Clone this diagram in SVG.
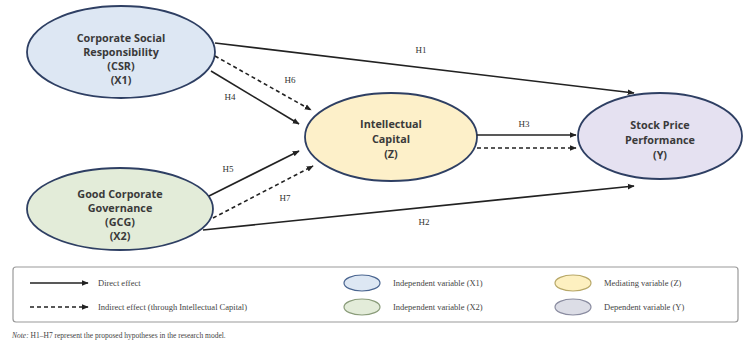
<svg xmlns="http://www.w3.org/2000/svg" width="744" height="342" viewBox="0 0 744 342">
<style>
.node text{font-family:"Open Sans","Liberation Sans",sans-serif;font-size:10.8px;font-weight:bold;fill:#3a3a3a;text-anchor:middle}
.nstroke{stroke:#2e3f63;stroke-width:1.8}
.lbl{font-family:"Liberation Serif",serif;font-size:9px;fill:#333;text-anchor:middle}
.conn line{stroke:#222;stroke-width:1.6;fill:none}
.dash{stroke-dasharray:4 3}
.leg{font-family:"Liberation Serif",serif;font-size:8.5px;fill:#444}
</style>
<defs>
<marker id="ah" viewBox="0 0 10 10" refX="9" refY="5" markerWidth="7" markerHeight="7" orient="auto" markerUnits="userSpaceOnUse">
<path d="M0,1 L10,5 L0,9 z" fill="#222"/>
</marker>
</defs>
<rect width="744" height="342" fill="#fff"/>
<g id="csr" class="node">
<ellipse class="nstroke" cx="121" cy="52" rx="94" ry="46" fill="#dde7f3"/>
<text x="121" y="42">Corporate Social</text>
<text x="121" y="56">Responsibility</text>
<text x="121" y="70">(CSR)</text>
<text x="121" y="84">(X1)</text>
</g>
<g id="gcg" class="node">
<ellipse class="nstroke" cx="120" cy="209" rx="93" ry="41" fill="#e3ecd9"/>
<text x="120" y="198">Good Corporate</text>
<text x="120" y="212">Governance</text>
<text x="120" y="226">(GCG)</text>
<text x="120" y="240">(X2)</text>
</g>
<g id="ic" class="node">
<ellipse class="nstroke" cx="391" cy="137" rx="86" ry="44" fill="#fdf0c9"/>
<text x="391" y="128">Intellectual</text>
<text x="391" y="143">Capital</text>
<text x="391" y="158">(Z)</text>
</g>
<g id="spp" class="node">
<ellipse class="nstroke" cx="660" cy="136" rx="82" ry="43" fill="#e5e1f1"/>
<text x="660" y="129">Stock Price</text>
<text x="660" y="144">Performance</text>
<text x="660" y="159">(Y)</text>
</g>
<g id="connectors" class="conn">
<line x1="215" y1="43" x2="634" y2="93" marker-end="url(#ah)"/>
<line class="dash" x1="215" y1="56" x2="311" y2="110" marker-end="url(#ah)"/>
<line x1="211" y1="71" x2="299" y2="124" marker-end="url(#ah)"/>
<line x1="209" y1="196" x2="299" y2="151" marker-end="url(#ah)"/>
<line class="dash" x1="213" y1="218" x2="313" y2="166" marker-end="url(#ah)"/>
<line x1="477" y1="135" x2="576" y2="135" marker-end="url(#ah)"/>
<line class="dash" x1="477" y1="148" x2="576" y2="148" marker-end="url(#ah)"/>
<line x1="203" y1="230" x2="634" y2="186" marker-end="url(#ah)"/>
<text class="lbl" x="421" y="53">H1</text>
<text class="lbl" x="290" y="83">H6</text>
<text class="lbl" x="230" y="100">H4</text>
<text class="lbl" x="228" y="172">H5</text>
<text class="lbl" x="285" y="201">H7</text>
<text class="lbl" x="524" y="127">H3</text>
<text class="lbl" x="424" y="225">H2</text>
</g>
<g id="legend">
<rect x="13" y="267" width="725" height="55" rx="3" fill="#fff" stroke="#9a9a9a" stroke-width="1.2"/>
<line x1="30" y1="283" x2="88" y2="283" stroke="#222" stroke-width="1.6" marker-end="url(#ah)"/>
<text class="leg" x="98" y="286">Direct effect</text>
<line class="dash" x1="30" y1="307" x2="88" y2="307" stroke="#222" stroke-width="1.6" stroke-dasharray="4 3" marker-end="url(#ah)"/>
<text class="leg" x="98" y="310">Indirect effect (through Intellectual Capital)</text>
<ellipse cx="362" cy="283" rx="18" ry="8" fill="#dde7f3" stroke="#4a6590" stroke-width="1.2"/>
<text class="leg" x="393" y="286">Independent variable (X1)</text>
<ellipse cx="362" cy="307" rx="18" ry="8" fill="#e3ecd9" stroke="#8a9c7a" stroke-width="1.2"/>
<text class="leg" x="393" y="310">Independent variable (X2)</text>
<ellipse cx="573" cy="283" rx="18" ry="8" fill="#fdf0c0" stroke="#b8a868" stroke-width="1.2"/>
<text class="leg" x="604" y="286">Mediating variable (Z)</text>
<ellipse cx="573" cy="307" rx="18" ry="8" fill="#dcdde6" stroke="#8a8ca0" stroke-width="1.2"/>
<text class="leg" x="604" y="310">Dependent variable (Y)</text>
</g>
<text x="12" y="338" font-family="Liberation Serif,serif" font-size="7.5" fill="#444"><tspan font-style="italic">Note:</tspan> H1–H7 represent the proposed hypotheses in the research model.</text>
</svg>
